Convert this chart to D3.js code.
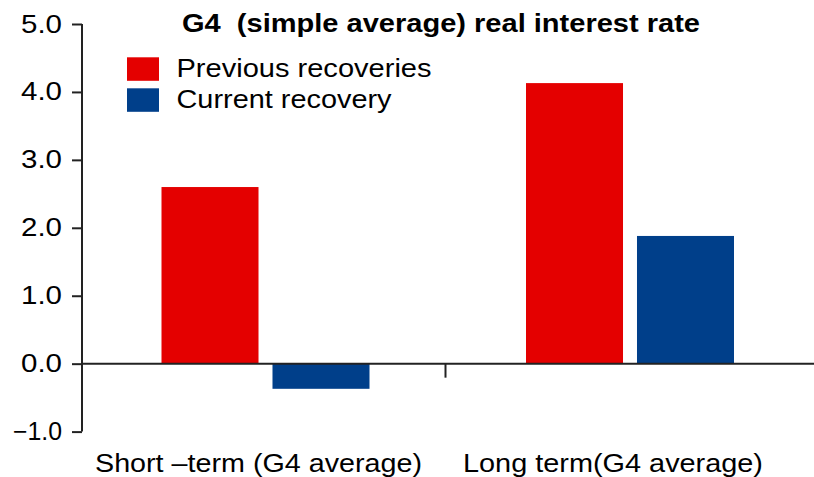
<!DOCTYPE html>
<html>
<head>
<meta charset="utf-8">
<script src="https://cdn.jsdelivr.net/npm/d3@7"></script>
<style>
  html, body { margin: 0; padding: 0; background: #fff; }
  svg { display: block; }
  text { font-family: "Liberation Sans", Arial, Helvetica, sans-serif; fill: #000; }
</style>
</head>
<body>
<svg id="chart" width="814" height="477"></svg>
<script>
// Real interest rates, G4 simple average (%)
const categories = ["Short \u2013term (G4 average)", "Long term(G4 average)"];
const seriesNames = ["Previous recoveries", "Current recovery"];
const previousRecoveries = [2.6, 4.13];
const currentRecovery = [-0.37, 1.88];
const yTickValues = [-1, 0, 1, 2, 3, 4, 5];
const titleText = "G4  (simple average) real interest rate";

const colors = { "Previous recoveries": "#e40000", "Current recovery": "#003f8a" };

const rows = categories.map((c, i) => ({
  category: c,
  values: [
    { series: seriesNames[0], value: previousRecoveries[i] },
    { series: seriesNames[1], value: currentRecovery[i] }
  ]
}));

const svg = d3.select("#chart");
const W = 814;

const y = d3.scaleLinear().domain([-1, 5]).range([431.6, 24]);
const x0 = d3.scaleBand().domain(categories).range([81, 810]).padding(0);
const x1 = d3.scaleBand().domain(seriesNames).range([80.5, 288.5]).paddingInner(0.126).paddingOuter(0);

// bars
const groups = svg.append("g").selectAll("g")
  .data(rows).join("g")
  .attr("transform", d => `translate(${x0(d.category)},0)`);

groups.selectAll("rect")
  .data(d => d.values).join("rect")
  .attr("x", d => x1(d.series))
  .attr("width", x1.bandwidth())
  .attr("y", d => y(Math.max(0, d.value)))
  .attr("height", d => Math.abs(y(d.value) - y(0)))
  .attr("fill", d => colors[d.series]);

// y axis
const yAxis = svg.append("g")
  .attr("transform", "translate(82,0)")
  .call(d3.axisLeft(y).tickValues(yTickValues).tickFormat(d3.format(".1f")).tickSize(10).tickPadding(10));
yAxis.select(".domain").attr("stroke", "#222").attr("stroke-width", 2).attr("d", `M0,${y(5)}V${y(-1)}`);
yAxis.selectAll(".tick line").attr("stroke", "#222").attr("stroke-width", 2);
yAxis.selectAll(".tick text")
  .attr("font-size", 25)
  .attr("font-family", "Liberation Sans, Arial, sans-serif")
  .attr("fill", "#000")
  .attr("lengthAdjust", "spacingAndGlyphs")
  .attr("textLength", d => d < 0 ? 49 : 41);

// zero line with a category separator tick
svg.append("line")
  .attr("x1", 82).attr("x2", W)
  .attr("y1", y(0)).attr("y2", y(0))
  .attr("stroke", "#222").attr("stroke-width", 2);
svg.append("line")
  .attr("x1", x0(categories[1])).attr("x2", x0(categories[1]))
  .attr("y1", y(0)).attr("y2", y(0) + 14)
  .attr("stroke", "#222").attr("stroke-width", 2);

// category labels
const catLabelLayout = [{ x: 95, w: 327 }, { x: 463, w: 300 }];
svg.append("g").selectAll("text")
  .data(categories).join("text")
  .attr("x", (d, i) => catLabelLayout[i].x)
  .attr("y", 472)
  .attr("font-size", 25.5)
  .attr("lengthAdjust", "spacingAndGlyphs")
  .attr("textLength", (d, i) => catLabelLayout[i].w)
  .text(d => d);

// title (keeps the double space after "G4")
svg.append("text")
  .attr("x", 182).attr("y", 32)
  .attr("font-size", 26)
  .attr("font-weight", "bold")
  .style("white-space", "pre")
  .attr("xml:space", "preserve")
  .attr("lengthAdjust", "spacingAndGlyphs")
  .attr("textLength", 518)
  .text(titleText);

// legend
const legendWidths = [255, 215];
const legend = svg.append("g").selectAll("g")
  .data(seriesNames).join("g")
  .attr("transform", (d, i) => `translate(127,${57.3 + i * 31})`);
legend.append("rect")
  .attr("width", 32).attr("height", 23.5)
  .attr("fill", d => colors[d]);
legend.append("text")
  .attr("x", 49.5).attr("y", 19.5)
  .attr("font-size", 25.5)
  .attr("lengthAdjust", "spacingAndGlyphs")
  .attr("textLength", (d, i) => legendWidths[i])
  .text(d => d);
</script>
</body>
</html>
